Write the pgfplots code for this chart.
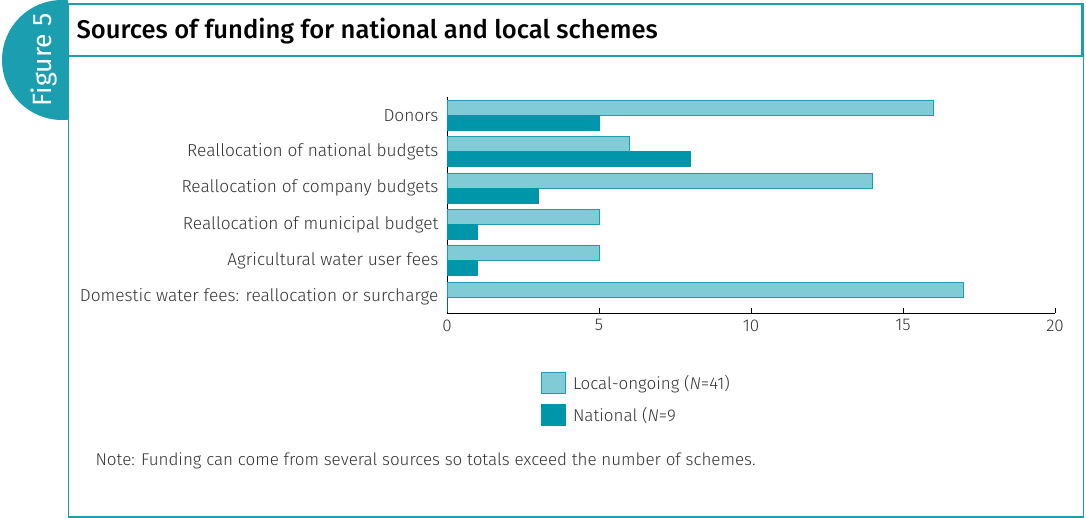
\documentclass[border=0pt]{standalone}
\usepackage{pgfplots}
\pgfplotsset{compat=1.18}
\usepackage{fontspec}
\setmainfont{Fira Sans Light}[BoldFont={Fira Sans Medium},ItalicFont={Fira Sans Light Italic}]
\newfontfamily\figfont{Fira Sans}
\definecolor{darkteal}{RGB}{0,150,170}
\definecolor{lightteal}{RGB}{128,203,213}
\definecolor{frame}{RGB}{27,159,176}
\definecolor{txt}{RGB}{50,50,50}
\begin{document}
\begin{tikzpicture}
\path (0pt,0pt) rectangle (1086pt,-518pt);
% badge
\begin{scope}
\clip (0pt,0pt) rectangle (68pt,-130pt);
\fill[frame] (62pt,-60pt) circle [radius=60pt];
\end{scope}
\node[rotate=90,text=white,font=\figfont\fontsize{26.5}{30}\selectfont] at (44pt,-60pt) {Figure 5};
% outer frame
\draw[frame,line width=1.5pt] (68.5pt,-57pt) -- (68.5pt,-517pt) -- (1083.5pt,-517pt) -- (1083.5pt,-57pt);
\draw[frame,line width=2.5pt] (68pt,-4pt) rectangle (1082.5pt,-56pt);
\node[anchor=west,font=\bfseries\fontsize{25.6}{28}\selectfont] at (73pt,-31pt) {Sources of funding for national and local schemes};
\begin{axis}[
  at={(447pt,-313pt)}, anchor=south west,
  scale only axis, width=608pt, height=216pt,
  xbar, bar width=15pt,
  xmin=0, xmax=20, ymin=-0.44, ymax=5.51,
  axis x line*=bottom, axis y line*=left,
  xtick={0,5,10,15,20},
  ytick={0,1,2,3,4,5},
  yticklabels={Domestic water fees: reallocation or surcharge,Agricultural water user fees,Reallocation of municipal budget,Reallocation of company budgets,Reallocation of national budgets,Donors},
  y tick label style={font=\fontsize{17.3}{19}\selectfont,text=txt,xshift=-5pt},
  x tick label style={font=\fontsize{17}{19}\selectfont,text=txt,yshift=-3pt},
  /pgf/number format/assume math mode=true,
  ytick style={draw=none},
  tick align=inside, major tick length=5pt,
  xtick style={black,line width=0.8pt},
  axis line style={black,line width=0.8pt},
  legend style={draw=none,fill=none,at={(0.1546,-0.273)},anchor=north west,inner sep=0pt,row sep=10pt,font=\fontsize{17}{19}\selectfont,text=txt,
    nodes={inner sep=0pt, inner xsep=7pt}},
  legend cell align=left,
  legend image code/.code={\draw[#1] (0pt,-10.5pt) rectangle (24pt,10.5pt);},
]
\addplot[fill=lightteal,draw=frame,line width=0.8pt,bar shift=7.5pt] coordinates {(17,0) (5,1) (5,2) (14,3) (6,4) (16,5)};
\addlegendentry{Local-ongoing (\textit{N}=41)}
\addplot[fill=darkteal,draw=darkteal,line width=0.8pt,bar shift=-7.5pt] coordinates {(0,0) (1,1) (1,2) (3,3) (8,4) (5,5)};
\addlegendentry{National (\textit{N}=9}
\end{axis}
\node[anchor=west,text=txt,font=\fontsize{17}{19}\selectfont] at (92pt,-461pt) {Note: Funding can come from several sources so totals exceed the number of schemes.};
\end{tikzpicture}
\end{document}
